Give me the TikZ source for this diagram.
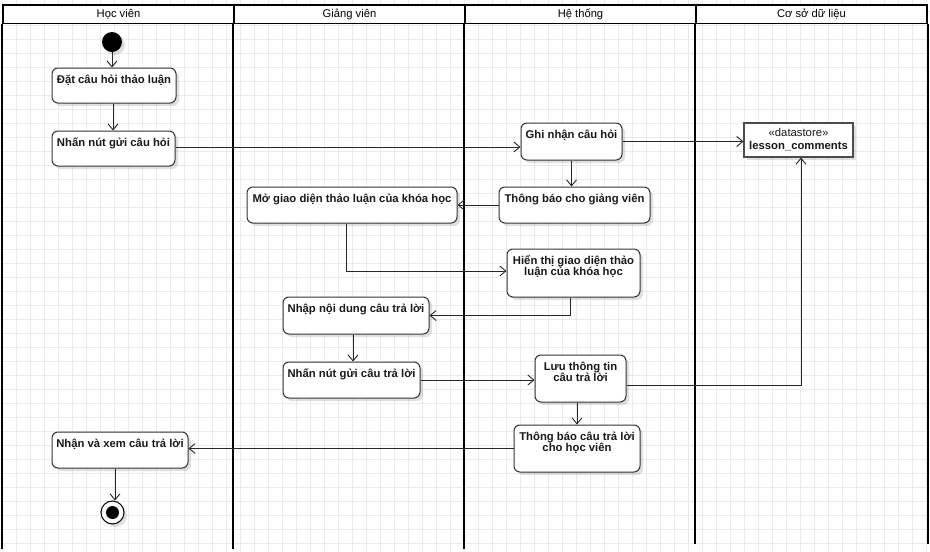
\documentclass[tikz,border=0pt]{standalone}
\usepackage{fontspec}
\setmainfont{Liberation Sans}
\usetikzlibrary{arrows.meta,shadows,calc}
\definecolor{gridc}{HTML}{EBEBEB}
\definecolor{boxc}{HTML}{333333}
\newcommand\mytightlines{\lineskiplimit=-20pt\relax}
\begin{document}
\begin{tikzpicture}[x=1pt,y=-1pt,
  gridline/.style={draw=gridc,line width=1pt},
  laneline/.style={draw=black,line width=2pt},
  hdr/.style={draw=black,line width=1.5pt,fill=white,minimum width=231pt,minimum height=18.3pt,inner sep=0pt,
    font=\fontsize{11.2pt}{12pt}\selectfont},
  act/.style={draw=boxc,line width=1pt,fill=white,rounded corners=6pt,inner sep=0pt,
    drop shadow={shadow xshift=3pt,shadow yshift=-3pt,opacity=0.12,fill=black}},
  dsbox/.style={draw=black!70,line width=1.2pt,fill=white,inner sep=0pt,
    drop shadow={shadow xshift=3pt,shadow yshift=-3pt,opacity=0.12,fill=black}},
  txt/.style={font={\fontsize{11.3pt}{11pt}\selectfont\bfseries\mytightlines},align=center,inner sep=0pt,text=black!90,anchor=north},
  regtxt/.style={font=\fontsize{11.3pt}{11pt}\selectfont,inner sep=0pt,text=black!90,anchor=base},
  boldtxt/.style={font=\fontsize{11.3pt}{11pt}\selectfont\bfseries,inner sep=0pt,text=black!90,anchor=base},
  arr/.style={draw=black!85,line width=0.9pt,-{Straight Barb[length=6pt,width=10pt,line width=0.9pt]}}
]
\useasboundingbox (0,0) rectangle (930,552);
\fill[white] (0,0) rectangle (930,552);
% grid
\foreach \i in {0,...,66} \draw[gridline] (2.7+14*\i,0) -- (2.7+14*\i,552);
\foreach \j in {0,...,38} \draw[gridline] (0,11+14*\j) -- (930,11+14*\j);

% lane headers
\node[hdr] (l1) at (118.5,14.2) {Học viên};
\node[hdr] (l2) at (349.5,14.2) {Giảng viên};
\node[hdr] (l3) at (580.5,14.2) {Hệ thống};
\node[hdr] (l4) at (811.5,14.2) {Cơ sở dữ liệu};
\draw[laneline] (l1.south west) -- ++(0,525);
\draw[laneline] (l2.south west) -- ++(0,525);
\draw[laneline] (l3.south west) -- ++(0,525);
\draw[laneline] (l4.south west) -- ++(0,520);
\draw[laneline] (l4.south east) -- ++(0,520);

% start / end
\node[circle,fill=black,minimum size=20pt,inner sep=0pt,
  drop shadow={shadow xshift=3pt,shadow yshift=-3pt,opacity=0.12,fill=black}] (st) at (112,42) {};
\node[circle,draw=black,line width=1pt,fill=white,minimum size=23pt,inner sep=0pt,
  drop shadow={shadow xshift=3pt,shadow yshift=-3pt,opacity=0.12,fill=black}] (en) at (112.5,512.5) {};
\node[circle,fill=black,minimum size=13pt,inner sep=0pt] (eni) at (en) {};

% activity boxes
\node[act,minimum width=124pt,minimum height=35pt] (a1) at (114,85.5) {};
\node[txt] (ta1) at ([yshift=-3.5pt]a1.north) {\rule{0pt}{12pt}Đặt câu hỏi thảo luận};
\node[act,minimum width=123pt,minimum height=35pt] (a2) at (113.5,148.5) {};
\node[txt] (ta2) at ([yshift=-3.5pt]a2.north) {\rule{0pt}{12pt}Nhấn nút gửi câu hỏi};
\node[act,minimum width=101pt,minimum height=37pt] (r1) at (571.5,141.5) {};
\node[txt] (tr1) at ([yshift=-3.5pt]r1.north) {\rule{0pt}{12pt}Ghi nhận câu hỏi};
\node[dsbox,minimum width=109pt,minimum height=34pt] (ds) at (798.5,140) {};
\node[regtxt] (tds1) at (798.5,136.5) {«datastore»};
\node[boldtxt] (tds2) at (798.5,149.5) {lesson\_comments};
\node[act,minimum width=151pt,minimum height=36pt] (r2) at (574.5,205) {};
\node[txt] (tr2) at ([yshift=-3.5pt]r2.north) {\rule{0pt}{12pt}Thông báo cho giảng viên};
\node[act,minimum width=210pt,minimum height=36pt] (g1) at (352,205) {};
\node[txt] (tg1) at ([yshift=-3.5pt]g1.north) {\rule{0pt}{12pt}Mở giao diện thảo luận của khóa học};
\node[act,minimum width=133pt,minimum height=48pt] (r3) at (573.5,273) {};
\node[txt] (tr3) at ([yshift=-3.5pt]r3.north) {\rule{0pt}{12pt}Hiển thị giao diện thảo\\luận của khóa học};
\node[act,minimum width=146pt,minimum height=37pt] (g2) at (356,315.5) {};
\node[txt] (tg2) at ([yshift=-3.5pt]g2.north) {\rule{0pt}{12pt}Nhập nội dung câu trả lời};
\node[act,minimum width=137pt,minimum height=36pt] (g3) at (351.5,380) {};
\node[txt] (tg3) at ([yshift=-3.5pt]g3.north) {\rule{0pt}{12pt}Nhấn nút gửi câu trả lời};
\node[act,minimum width=91pt,minimum height=47pt] (r4) at (580.5,378.5) {};
\node[txt] (tr4) at ([yshift=-3.5pt]r4.north) {\rule{0pt}{12pt}Lưu thông tin\\câu trả lời};
\node[act,minimum width=126pt,minimum height=47pt] (r5) at (577,448.5) {};
\node[txt] (tr5) at ([yshift=-3.5pt]r5.north) {\rule{0pt}{12pt}Thông báo câu trả lời\\cho học viên};
\node[act,minimum width=136pt,minimum height=36pt] (h3) at (120,450) {};
\node[txt] (th3) at ([yshift=-3.5pt]h3.north) {\rule{0pt}{12pt}Nhận và xem câu trả lời};

% connectors
\draw[arr] (st.south) -- (st.south |- a1.north);
\draw[arr] ([xshift=-1pt]a1.south) -- ([xshift=-1pt]a1.south |- a2.north);
\draw[arr] ([yshift=1.5pt]a2.east) -- ([yshift=1.5pt]a2.east -| r1.west);
\draw[arr] (r1.east) -- (r1.east -| ds.west);
\draw[arr] (r1.south) -- (r1.south |- r2.north);
\draw[arr] (r2.west) -- (r2.west -| g1.east);
\draw[arr] ([xshift=-6pt]g1.south) |- ([yshift=2pt]r3.west);
\draw[arr] ([xshift=-3.5pt]r3.south) |- (g2.east);
\draw[arr] ([xshift=-3pt]g2.south) -- ([xshift=-3pt]g2.south |- g3.north);
\draw[arr] (g3.east) -- (g3.east -| r4.west);
\draw[arr] ([yshift=-6.5pt]r4.east) -| ([xshift=2.5pt]ds.south);
\draw[arr] (r4.south -| r5.north) -- (r5.north);
\draw[arr] (r5.west) -- (r5.west -| h3.east);
\draw[arr] ([xshift=-5pt]h3.south) -- ([xshift=-5pt]h3.south |- en.north);
\end{tikzpicture}
\end{document}
